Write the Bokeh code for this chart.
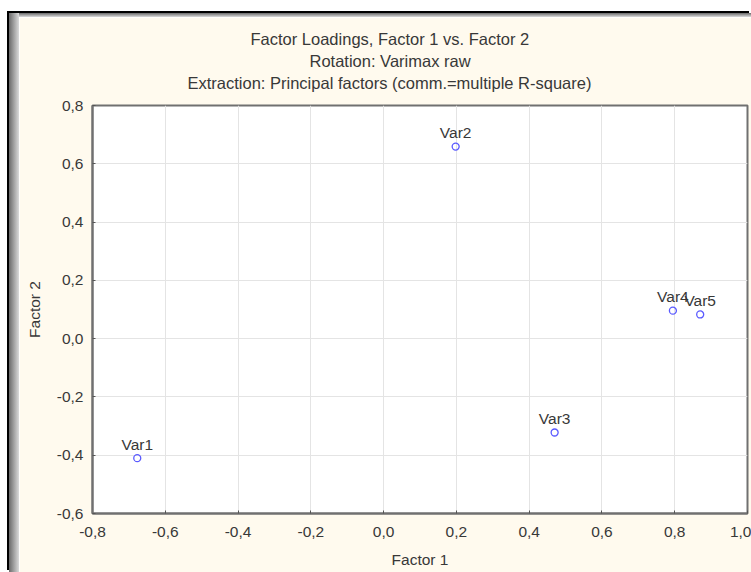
from bokeh.plotting import figure
from bokeh.models import Title, FixedTicker, CustomJSTickFormatter, ColumnDataSource, Range1d
from bokeh.embed import file_html
from bokeh.resources import INLINE
from bokeh.core.properties import value

# ---- data ----
var_names = ["Var1", "Var2", "Var3", "Var4", "Var5"]
factor1 = [-0.677, 0.198, 0.470, 0.795, 0.870]
factor2 = [-0.410, 0.659, -0.322, 0.096, 0.083]

x_ticks = [-0.8, -0.6, -0.4, -0.2, 0.0, 0.2, 0.4, 0.6, 0.8, 1.0]
y_ticks = [-0.6, -0.4, -0.2, 0.0, 0.2, 0.4, 0.6, 0.8]

title_lines = [
    "Factor Loadings, Factor 1 vs. Factor 2",
    "Rotation: Varimax raw",
    "Extraction: Principal factors (comm.=multiple R-square)",
]
x_label = "Factor 1"
y_label = "Factor 2"

# ---- style ----
FONT = "Liberation Sans"
TXT = "#383838"
FS = "15.5px"
TFS = "16.5px"
CREAM = "#FFFAEE"

source = ColumnDataSource(dict(x=factor1, y=factor2, name=var_names))

p = figure(
    frame_width=655, frame_height=408,
    min_border_left=73, min_border_top=88, min_border_right=4, min_border_bottom=59,
    x_range=Range1d(x_ticks[0], x_ticks[-1]),
    y_range=Range1d(y_ticks[0], y_ticks[-1]),
    output_backend="svg", toolbar_location=None,
    background_fill_color="white", border_fill_color=CREAM,
)
p.styles = {
    "margin-left": "9px",
    "margin-top": "13px",
    "border-left": "10px solid transparent",
    "border-top": "4px solid transparent",
    "background-origin": "border-box",
    "background-image": ("linear-gradient(to right, #6a6a6a 0px, #dadada 10px, transparent 10px), "
                         "linear-gradient(to bottom, #6a6a6a 0px, #dadada 4px, transparent 4px)"),
    "box-shadow": "-2px -2px 0 #000000",
}

p.outline_line_color = "#707070"
p.outline_line_width = 2

fmt = CustomJSTickFormatter(code="return tick.toFixed(1).replace('.', ',');")
for ax, ticks, lab in ((p.xaxis[0], x_ticks, x_label), (p.yaxis[0], y_ticks, y_label)):
    ax.ticker = FixedTicker(ticks=ticks)
    ax.formatter = fmt
    ax.axis_label = lab
    ax.axis_line_color = "#707070"
    ax.axis_line_width = 2
    ax.major_tick_in = 3
    ax.major_tick_out = 0
    ax.major_tick_line_color = "#555555"
    ax.minor_tick_line_color = None
    ax.major_label_text_font = FONT
    ax.major_label_text_font_size = FS
    ax.major_label_text_color = TXT
    ax.axis_label_text_font = FONT
    ax.axis_label_text_font_size = FS
    ax.axis_label_text_font_style = "normal"
    ax.axis_label_text_color = TXT

p.xaxis.major_label_standoff = 13
p.xaxis.axis_label_standoff = 11
p.yaxis.major_label_standoff = 9
p.yaxis.axis_label_standoff = 11

p.xgrid.ticker = FixedTicker(ticks=x_ticks)
p.ygrid.ticker = FixedTicker(ticks=y_ticks)
p.grid.grid_line_color = "#e4e4e4"
p.grid.grid_line_width = 1

p.scatter("x", "y", source=source, marker="circle", size=7,
          fill_color=None, line_color="#5a5aff", line_width=1.3)
p.text("x", "y", text="name", source=source, text_align="center",
       text_baseline="middle", y_offset=-14,
       text_font=value(FONT), text_font_size=FS, text_color=TXT)

# spacer between the frame and the title block
p.add_layout(Title(text=" ", text_font_size="1px", standoff=10), "above")
# title block: stacked outward from the frame (last line first)
title_offsets = [158, 217, 95]
title_standoffs = [4, 1, 2]
for txt, off, so in reversed(list(zip(title_lines, title_offsets, title_standoffs))):
    p.add_layout(Title(text=txt, align="left", offset=off, standoff=so,
                       text_font=FONT, text_font_size=TFS, text_font_style="normal",
                       text_color=TXT), "above")

open("out.html", "w").write(file_html(p, INLINE))
